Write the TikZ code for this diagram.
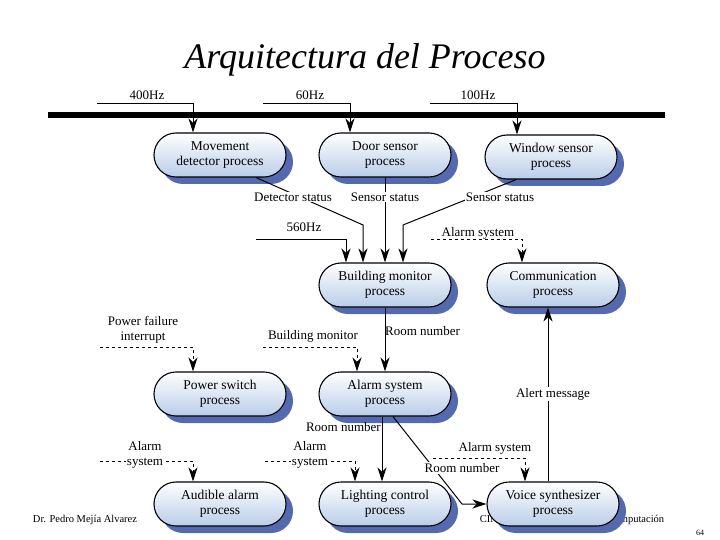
\documentclass[tikz,border=0pt]{standalone}
\usepackage{fontspec}
\setmainfont{Liberation Serif}
\usetikzlibrary{shapes.misc,arrows.meta,shadows,calc}
\definecolor{shadowblue}{RGB}{85,105,175}
\definecolor{pillblue}{RGB}{185,205,232}
\begin{document}
\begin{tikzpicture}[x=1pt,y=-1pt,
  proc/.style={rounded rectangle, draw=black, line width=1.1pt,
    minimum width=134pt, minimum height=44pt, inner sep=1pt,
    top color=white, bottom color=pillblue, align=center,
    font=\fontsize{13.5}{15}\selectfont,
    drop shadow={shadow xshift=7pt, shadow yshift=-7pt, fill=shadowblue, opacity=1}},
  lbl/.style={inner sep=1pt, align=center, font=\fontsize{13}{14.5}\selectfont},
  wlbl/.style={lbl, fill=white},
  flow/.style={line width=1pt, -{Stealth[length=14pt,width=9pt]}},
  ctl/.style={flow, dashed},
  bus/.style={line width=6pt}]
\useasboundingbox (0,0) rectangle (720,540);

% title and footer
\node[font=\fontsize{36}{38}\selectfont\itshape] (title) at (365,60) {Arquitectura del Proceso};
\node[font=\fontsize{10.5}{12}\selectfont] (auth) at (85,520) {Dr. Pedro Mejía Alvarez};
\node[font=\fontsize{10.5}{12}\selectfont] (inst) at (572,520) {CINVESTAV-IPN Sección de Computación};
\node[font=\fontsize{8}{9}\selectfont] (page) at (700,533) {64};

% bus
\coordinate (busL) at (48,115);
\coordinate (busR) at (665,115);
\draw[bus] (busL) -- (busR);

% processes
\node[proc] (mov) at (220,155) {Movement\\detector process};
\node[proc] (door) at (385,155) {Door sensor\\process};
\node[proc] (win) at (551,157) {Window sensor\\process};
\node[proc] (bm) at (385,285) {Building monitor\\process};
\node[proc] (com) at (553,285) {Communication\\process};
\node[proc] (pw) at (220,394) {Power switch\\process};
\node[proc] (as) at (385,394) {Alarm system\\process};
\node[proc] (aud) at (220,504) {Audible alarm\\process};
\node[proc] (lc) at (385,504) {Lighting control\\process};
\node[proc] (vs) at (553,504) {Voice synthesizer\\process};

% free ends and bends
\coordinate (f1) at (97,104);
\coordinate (f2) at (263,104);
\coordinate (f3) at (430,104);
\coordinate (f4) at (256,239);
\coordinate (f5) at (431,239);
\coordinate (f6) at (263,347);
\coordinate (f7) at (100,347);
\coordinate (f8) at (100,461);
\coordinate (f9) at (265,461);
\coordinate (f10) at (433,458);
\coordinate (b1) at (363,225);
\coordinate (b2) at (403,225);
\coordinate (b3) at (462,504);

% connectors
\draw[flow] (f1) -| ($(mov.north)+(-27,0)$);
\draw[flow] (f2) -| ($(door.north)+(-35,0)$);
\draw[flow] (f3) -| ($(win.north)+(-34,0)$);
\draw[flow] (mov.-32) -- (b1) -- ($(bm.north)+(-22,0)$);
\draw[flow] (door.south) -- (bm.north);
\draw[flow] (win.213) -- (b2) -- ($(bm.north)+(18,0)$);
\draw[flow] (f4) -| ($(bm.north)+(-39,0)$);
\draw[ctl] (f5) -| ($(com.north)+(-31,0)$);
\draw[flow] (bm.south) -- (as.north);
\draw[ctl] (f6) -| ($(as.north)+(-28,0)$);
\draw[ctl] (f7) -| ($(pw.north)+(-27,0)$);
\draw[flow] ($(vs.north)+(-5,0)$) -- ($(com.south)+(-5,0)$);
\draw[flow] ($(as.south)+(-3,0)$) -- ($(lc.north)+(-3,0)$);
\draw[flow] ($(as.south)+(8,0)$) -- (b3) -- (vs.west);
\draw[ctl] (f10) -| ($(vs.north)+(-28,0)$);
\draw[ctl] (f8) -| ($(aud.north)+(-27,0)$);
\draw[ctl] (f9) -| ($(lc.north)+(-30,0)$);

% labels
\node[lbl] (l400) at (147,95) {400Hz};
\node[lbl] (l60) at (310,95) {60Hz};
\node[lbl] (l100) at (478,95) {100Hz};
\node[wlbl] (lds) at (293,197) {Detector status};
\node[wlbl] (lss1) at (385,197) {Sensor status};
\node[wlbl] (lss2) at (500,197) {Sensor status};
\node[lbl] (l560) at (304,227) {560Hz};
\node[lbl, anchor=south] (las1) at (478,241) {Alarm system};
\node[lbl, anchor=west] (lrn1) at (384,331) {Room number};
\node[lbl, anchor=south] (lbmon) at (313,344) {Building monitor};
\node[lbl, anchor=south] (lpf) at (143,344) {Power failure\\interrupt};
\node[wlbl] (lam) at (553,394) {Alert message};
\node[lbl, anchor=east] (lrn2) at (382,427) {Room number};
\node[wlbl] (lrn3) at (462,468) {Room number};
\node[lbl, anchor=south] (las2) at (495,456) {Alarm system};
\node[wlbl] (las3) at (145,455) {Alarm\\system};
\node[wlbl] (las4) at (310,455) {Alarm\\system};
\end{tikzpicture}
\end{document}
